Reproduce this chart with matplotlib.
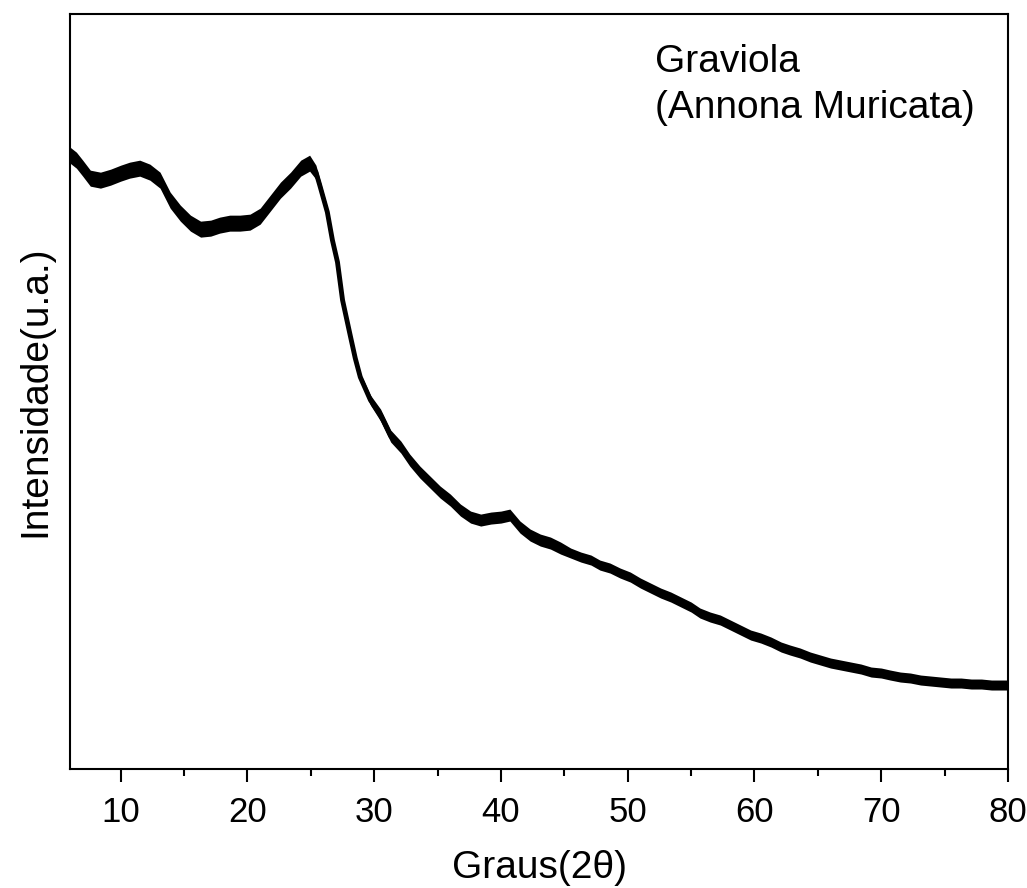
import numpy as np
import matplotlib.pyplot as plt

plt.rcParams['font.family'] = ['Liberation Sans', 'DejaVu Sans']

# 2theta (graus) and intensity (a.u.) (centre of the noisy trace)
two_theta = [6.0, 6.5, 7.0, 7.6, 8.4, 9.2, 10.0, 10.7, 11.5, 12.3, 13.1, 13.9,
             14.7, 15.5, 16.3, 17.1, 17.8, 18.6, 19.4, 20.2, 21.0, 21.8, 22.6,
             23.4, 24.2, 24.9, 25.4, 25.7, 26.3, 26.7, 27.1, 27.5, 28.1, 28.5,
             28.9, 29.7, 30.5, 31.3, 32.1, 32.8, 33.6, 34.4, 35.2, 36.0, 36.8,
             37.6, 38.4, 39.2, 40.0, 40.7, 41.5, 42.3, 43.1, 43.9, 44.7, 45.5,
             46.3, 47.1, 47.8, 48.6, 49.4, 50.2, 51.0, 51.8, 52.6, 53.4, 54.2,
             55.0, 55.7, 56.5, 57.3, 58.1, 58.9, 59.7, 60.5, 61.3, 62.1, 62.8,
             63.6, 64.4, 65.2, 66.0, 66.8, 67.6, 68.4, 69.2, 70.0, 70.7, 71.5,
             72.3, 73.1, 73.9, 74.7, 75.5, 76.3, 77.1, 77.9, 78.7, 80.0]
intensidade = [614, 609, 601, 591, 589, 592, 596, 599, 601, 597, 589, 569,
               556, 546, 540, 541, 544, 546, 546, 547, 553, 566, 579,
               589, 601, 606, 597, 584, 557, 529, 507, 469, 434, 411,
               392, 369, 354, 333, 322, 309, 297, 287, 277, 269, 259,
               252, 249, 251, 252, 254, 242, 234, 229, 226, 221, 216,
               212, 209, 204, 201, 196, 192, 186, 181, 176, 172, 167,
               162, 156, 152, 149, 144, 139, 134, 131, 127, 122, 119,
               116, 112, 109, 106, 104, 102, 100, 97, 96, 94, 92,
               91, 89, 88, 87, 86, 86, 85, 85, 84, 84]
# half-width of the noise band around the trace
ruido = [8, 8, 8, 8, 8, 8, 8, 8, 8, 8, 8, 8,
         8, 8, 8, 8, 8, 8, 8, 8, 8, 8, 8,
         8, 8, 8, 7, 6, 5, 4, 4, 4, 4, 4,
         4, 5, 6, 6, 6, 6, 6, 6, 6, 6, 6,
         6, 6, 6, 6, 6, 6, 6, 6, 6, 6, 5,
         5, 5, 5, 5, 5, 5, 5, 5, 5, 5, 5,
         5, 5, 5, 5, 5, 5, 5, 5, 5, 5, 5,
         5, 5, 5, 5, 5, 5, 5, 5, 5, 5, 5,
         5, 5, 5, 5, 5, 5, 5, 5, 5, 5]

x = np.array(two_theta)
y = np.array(intensidade)
r = np.array(ruido)

fig = plt.figure(figsize=(10.27, 8.88), dpi=100)
ax = fig.add_axes([0.0682, 0.134, 0.9133, 0.850])

ax.fill_between(x, y - r, y + r, color='black', lw=0)
ax.plot(x, y, color='black', lw=3.5)

ax.set_xlim(6, 80)
ax.set_ylim(0, 755)
ax.set_xticks(np.arange(10, 81, 10))
ax.set_xticks(np.arange(15, 80, 10), minor=True)
ax.set_yticks([])
ax.tick_params(axis='x', which='major', direction='out', length=9.5, width=1.5,
               labelsize=25, pad=10)
ax.tick_params(axis='x', which='minor', direction='out', length=5, width=1.5)
for s in ax.spines.values():
    s.set_linewidth(1.5)

ax.set_xlabel('Graus(2θ)', fontsize=28, labelpad=15)
ax.set_ylabel('Intensidade(u.a.)', fontsize=28, labelpad=12)

ax.text(0.624, 0.923, 'Graviola', transform=ax.transAxes, fontsize=28,
        va='baseline', ha='left')
ax.text(0.624, 0.862, '(Annona Muricata)', transform=ax.transAxes, fontsize=28,
        va='baseline', ha='left')

plt.savefig('out.png', dpi=100)
